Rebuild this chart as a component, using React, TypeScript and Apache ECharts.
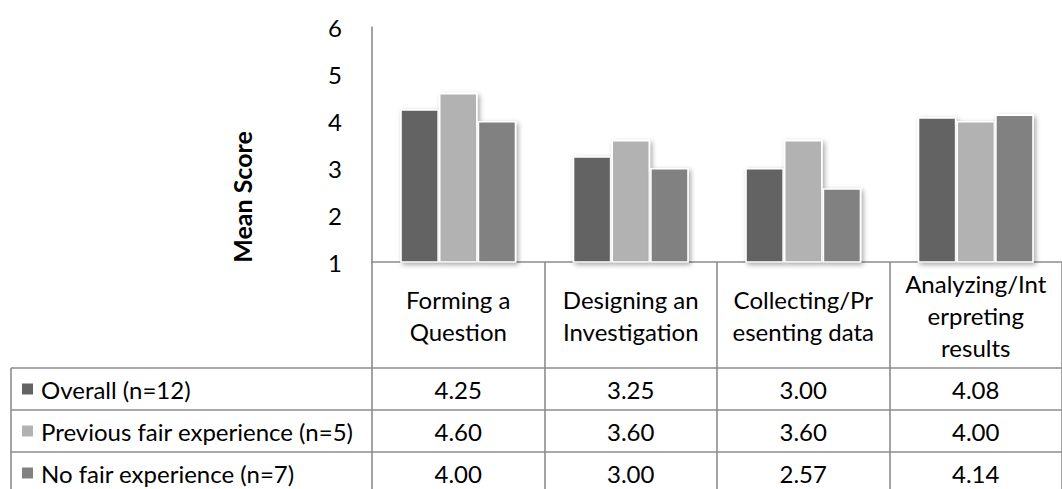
import React, { useEffect, useRef } from "react";
import * as echarts from "echarts";

const categories = [
  "Forming a Question",
  "Designing an Investigation",
  "Collecting/Presenting data",
  "Analyzing/Interpreting results",
];
const categoryLabels = [
  "Forming a\nQuestion",
  "Designing an\nInvestigation",
  "Collecting/Pr\nesenting data",
  "Analyzing/Int\nerpreting\nresults",
];
const seriesNames = [
  "Overall (n=12)",
  "Previous fair experience (n=5)",
  "No fair experience (n=7)",
];
const overall = [4.25, 3.25, 3.0, 4.08];
const previousFair = [4.6, 3.6, 3.6, 4.0];
const noFair = [4.0, 3.0, 2.57, 4.14];
const seriesValues = [overall, previousFair, noFair];
const seriesColors = ["#636363", "#b2b2b2", "#818181"];
const yMin = 1;
const yMax = 6;
const yInterval = 1;
const yAxisTitle = "Mean Score";

const FONT = "Lato, 'Open Sans', sans-serif";
const LINE = "#8c8c8c";
const FS = 24;

export default function App() {
  const ref = useRef<HTMLDivElement>(null);
  useEffect(() => {
    if (!ref.current) return;
    const chart = echarts.init(ref.current, undefined, { renderer: "svg" });
    const gridLeft = 372;
    const gridTop = 27;
    const gridHeight = 235;
    const gridWidth = 696;
    const axisY = gridTop + gridHeight;
    const headerH = 106;
    const rowH = 42;
    const tableLeft = 11;

    chart.setOption({
      animation: false,
      textStyle: { fontFamily: FONT },
      grid: { left: gridLeft, top: gridTop, width: gridWidth, height: gridHeight },
      xAxis: {
        type: "category",
        data: categories,
        axisLine: { show: true, lineStyle: { color: LINE, width: 1.6 } },
        axisTick: { show: true, interval: 0, length: 240, lineStyle: { color: LINE, width: 1.6 } },
        axisLabel: {
          interval: 0,
          hideOverlap: false,
          formatter: (_v: string, i: number) => categoryLabels[i],
          fontSize: FS,
          lineHeight: 32,
          color: "#000",
          margin: 53,
          align: "center",
          verticalAlign: "middle",
          fontFamily: FONT,
        },
      },
      yAxis: {
        type: "value",
        min: yMin,
        max: yMax,
        interval: yInterval,
        axisLine: { show: true, lineStyle: { color: LINE, width: 1.6 } },
        axisTick: { show: false },
        splitLine: { show: false },
        axisLabel: { fontSize: FS, color: "#000", margin: 30, fontFamily: FONT },
      },
      series: seriesValues.map((vals, si) => ({
        type: "bar",
        name: seriesNames[si],
        data: vals,
        barWidth: 38.7,
        barGap: "0%",
        itemStyle: {
          color: seriesColors[si],
          borderColor: "#ffffff",
          borderWidth: 1.6,
          shadowBlur: 5,
          shadowColor: "rgba(0,0,0,0.35)",
          shadowOffsetX: 2,
          shadowOffsetY: 2,
        },
      })),
    });

    const graphics: any[] = [];
    graphics.push({
      type: "text",
      x: 242,
      y: 197,
      rotation: Math.PI / 2,
      style: {
        text: yAxisTitle,
        font: `bold 25px ${FONT}`,
        fill: "#000",
        textAlign: "center",
        textVerticalAlign: "middle",
      },
    });
    const tableTop = axisY + headerH;
    const tableRight = gridLeft + gridWidth;
    for (let r = 0; r <= seriesNames.length; r++) {
      const y = tableTop + r * rowH;
      graphics.push({
        type: "line",
        shape: { x1: tableLeft, y1: y, x2: tableRight, y2: y },
        style: { stroke: LINE, lineWidth: 1.6 },
      });
    }
    graphics.push({
      type: "line",
      shape: { x1: tableLeft, y1: tableTop, x2: tableLeft, y2: tableTop + seriesNames.length * rowH },
      style: { stroke: LINE, lineWidth: 1.6 },
    });
    seriesNames.forEach((name, si) => {
      const cy = tableTop + si * rowH + rowH / 2;
      graphics.push({
        type: "rect",
        shape: { x: 22, y: cy - 5.5, width: 11, height: 11 },
        style: { fill: seriesColors[si] },
      });
      graphics.push({
        type: "text",
        x: 41,
        y: cy,
        style: {
          text: name,
          font: `${FS}px ${FONT}`,
          fill: "#000",
          textAlign: "left",
          textVerticalAlign: "middle",
        },
      });
      seriesValues[si].forEach((v, ci) => {
        const px = chart.convertToPixel({ xAxisIndex: 0 }, categories[ci]) as number;
        graphics.push({
          type: "text",
          x: px,
          y: cy,
          style: {
            text: v.toFixed(2),
            font: `${FS}px ${FONT}`,
            fill: "#000",
            textAlign: "center",
            textVerticalAlign: "middle",
          },
        });
      });
    });
    chart.setOption({ graphic: graphics });
    return () => chart.dispose();
  }, []);
  return (
    <div
      ref={ref}
      style={{ position: "fixed", left: 0, top: 0, width: 1062, height: 489, background: "#fff" }}
    />
  );
}
